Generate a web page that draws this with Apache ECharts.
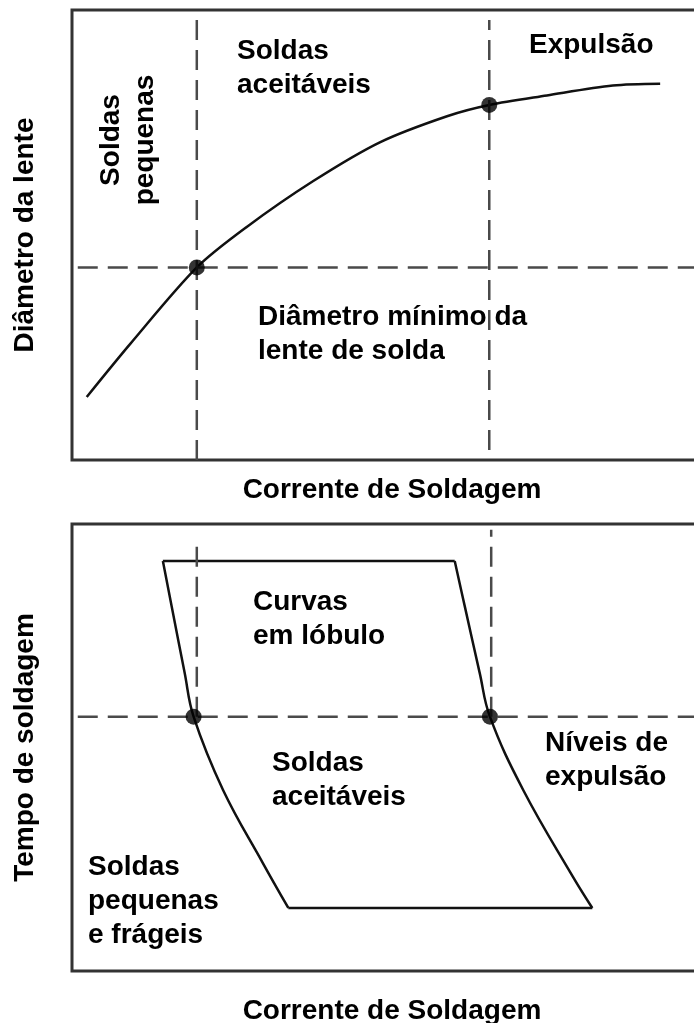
<!DOCTYPE html>
<html>
<head>
<meta charset="utf-8">
<script src="https://cdn.jsdelivr.net/npm/echarts@6/dist/echarts.min.js"></script>
<style>
  html, body { margin: 0; background: #fff; }
  #chart { width: 694px; height: 1023px; }
</style>
</head>
<body>
<div id="chart"></div>
<script>
// painel superior: diâmetro da lente x corrente
const lensCurrent = [2.3, 9.1, 19.5, 27.3, 37.7, 48.1, 58.6, 65.2, 74.2, 84.5, 91.9]
const lensDiameter = [14.0, 25.8, 42.8, 51.8, 62.0, 70.6, 76.4, 78.9, 81.0, 83.2, 83.6]
const minDiameter = 42.8
const topLimits = [19.5, 65.2] // soldas pequenas | expulsão
const topLimitSpan = [[0, 100], [2.2, 97.8]]
const topDots = [[19.5, 42.8], [65.2, 78.9]]

// painel inferior: curvas em lóbulo
const lobeLeftCurrent = [14.2, 15.6, 17.6, 19.0, 23.6, 29.8, 33.8]
const lobeLeftTime = [91.7, 81.4, 66.7, 56.9, 40.5, 24.2, 14.1]
const lobeRightCurrent = [59.8, 61.4, 63.7, 65.3, 70.5, 78.3, 81.3]
const lobeRightTime = [91.7, 81.4, 66.7, 56.9, 40.5, 21.0, 14.1]
const refTime = 56.9
const bottomLimits = [19.5, 65.5]
const bottomLimitSpan = [[56.9, 96.4], [56.9, 98.7]]
const bottomDots = [[19.0, 56.9], [65.3, 56.9]]

const FONT = '"Liberation Sans", Arial, sans-serif'
const dash = { color: '#4a4a4a', width: 2.5, type: [20, 10] }
const solid = { color: '#111', width: 2.5 }

function pts(xs, ys) { return xs.map((x, i) => [x, ys[i]]) }
function line(g, data, style, smooth) {
  return { type: 'line', xAxisIndex: g, yAxisIndex: g, data, symbol: 'none', smooth: smooth || false, lineStyle: style, silent: true }
}
function dots(g, data) {
  return { type: 'scatter', xAxisIndex: g, yAxisIndex: g, data, symbolSize: 16, itemStyle: { color: '#000' }, silent: true, z: 5 }
}
function axisX(g, name, gap) {
  return {
    type: 'value', gridIndex: g, min: 0, max: 100, name, nameLocation: 'middle', nameGap: gap,
    nameTextStyle: { fontFamily: FONT, fontWeight: 'bold', fontSize: 28, color: '#000' },
    axisLine: { show: false }, axisTick: { show: false }, axisLabel: { show: false }, splitLine: { show: false },
  }
}
function axisY(g, name) {
  return Object.assign(axisX(g, name, 33), { nameRotate: 90 })
}
const textStyle = { fill: '#000', font: 'bold 28px ' + FONT, lineHeight: 34 }
function note(text, x, y) {
  return { type: 'text', x, y, style: Object.assign({ text, align: 'left', verticalAlign: 'top' }, textStyle) }
}

const series = [
  line(0, pts(lensCurrent, lensDiameter), solid, 0.3),
  line(0, [[0.9, minDiameter], [100, minDiameter]], dash),
  ...topLimits.map((x, i) => line(0, [[x, topLimitSpan[i][0]], [x, topLimitSpan[i][1]]], dash)),
  dots(0, topDots),

  line(1, pts(lobeLeftCurrent, lobeLeftTime), solid, 0.4),
  line(1, pts(lobeRightCurrent, lobeRightTime), solid, 0.4),
  line(1, [[lobeLeftCurrent[0], lobeLeftTime[0]], [lobeRightCurrent[0], lobeRightTime[0]]], solid),
  line(1, [[lobeLeftCurrent.at(-1), lobeLeftTime.at(-1)], [lobeRightCurrent.at(-1), lobeRightTime.at(-1)]], solid),
  line(1, [[0.9, refTime], [100, refTime]], dash),
  ...bottomLimits.map((x, i) => line(1, [[x, bottomLimitSpan[i][0]], [x, bottomLimitSpan[i][1]]], dash)),
  dots(1, bottomDots),
]

const chart = echarts.init(document.getElementById('chart'))
chart.setOption({
  animation: false,
  backgroundColor: '#fff',
  grid: [
    { left: 72, top: 10, width: 640, height: 450, show: true, borderColor: '#333', borderWidth: 3, outerBoundsMode: 'none', containLabel: false },
    { left: 72, top: 524, width: 640, height: 447, show: true, borderColor: '#333', borderWidth: 3, outerBoundsMode: 'none', containLabel: false },
  ],
  xAxis: [axisX(0, 'Corrente de Soldagem', 16), axisX(1, 'Corrente de Soldagem', 26)],
  yAxis: [axisY(0, 'Diâmetro da lente'), axisY(1, 'Tempo de soldagem')],
  series,
  graphic: [
    note('Soldas\naceitáveis', 237, 34),
    note('Expulsão', 529, 28),
    {
      type: 'text', x: 128, y: 140, rotation: Math.PI / 2,
      style: Object.assign({ text: 'Soldas\npequenas', align: 'center', verticalAlign: 'middle' }, textStyle),
    },
    note('Diâmetro mínimo da\nlente de solda', 258, 300),
    note('Curvas\nem lóbulo', 253, 585),
    note('Soldas\naceitáveis', 272, 746),
    note('Níveis de\nexpulsão', 545, 726),
    note('Soldas\npequenas\ne frágeis', 88, 850),
  ],
})
</script>
</body>
</html>
